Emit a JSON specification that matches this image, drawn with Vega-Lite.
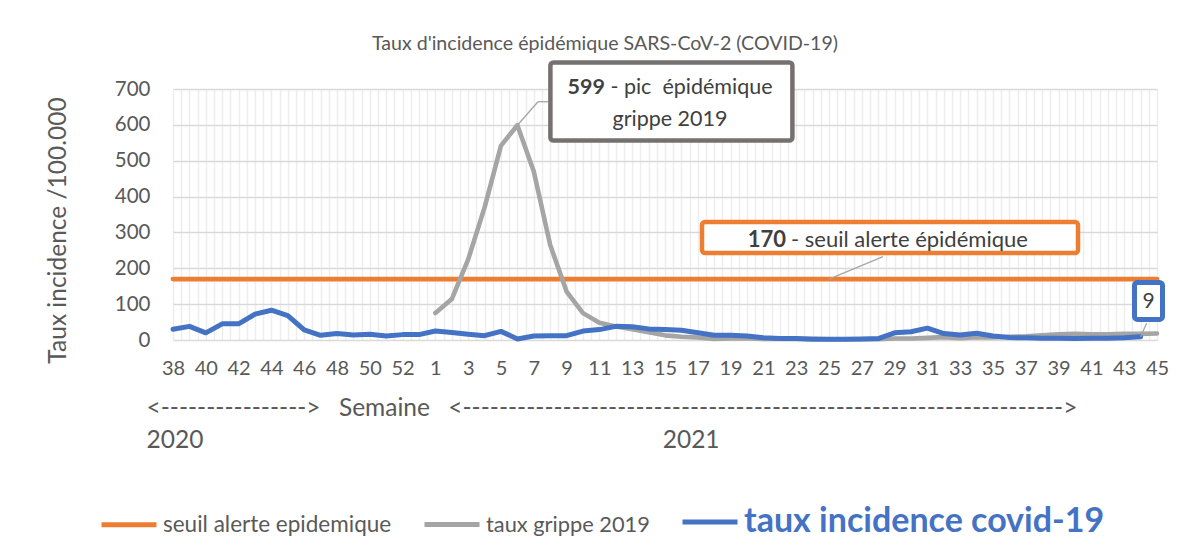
{
  "$schema": "https://vega.github.io/schema/vega-lite/v6.json",
  "autosize": {"type": "none"},
  "width": 984,
  "height": 251,
  "padding": {"left": 173, "top": 89, "right": 31, "bottom": 220},
  "background": "white",
  "config": {"font": "Lato", "view": {"stroke": null}},
  "title": {
    "text": "Taux d'incidence épidémique SARS-CoV-2 (COVID-19)",
    "font": "Lato",
    "fontSize": 19.6,
    "fontWeight": "normal",
    "color": "#595959",
    "anchor": "middle",
    "dx": -60,
    "offset": 6
  },
  "resolve": {"axis": {"x": "independent", "y": "independent"}},
  "datasets": {
    "seuil": [
      {"i":0,"semaine":38,"valeur":170},{"i":1,"semaine":39,"valeur":170},{"i":2,"semaine":40,"valeur":170},{"i":3,"semaine":41,"valeur":170},{"i":4,"semaine":42,"valeur":170},{"i":5,"semaine":43,"valeur":170},{"i":6,"semaine":44,"valeur":170},{"i":7,"semaine":45,"valeur":170},{"i":8,"semaine":46,"valeur":170},{"i":9,"semaine":47,"valeur":170},{"i":10,"semaine":48,"valeur":170},{"i":11,"semaine":49,"valeur":170},{"i":12,"semaine":50,"valeur":170},{"i":13,"semaine":51,"valeur":170},{"i":14,"semaine":52,"valeur":170},{"i":15,"semaine":53,"valeur":170},
      {"i":16,"semaine":1,"valeur":170},{"i":17,"semaine":2,"valeur":170},{"i":18,"semaine":3,"valeur":170},{"i":19,"semaine":4,"valeur":170},{"i":20,"semaine":5,"valeur":170},{"i":21,"semaine":6,"valeur":170},{"i":22,"semaine":7,"valeur":170},{"i":23,"semaine":8,"valeur":170},{"i":24,"semaine":9,"valeur":170},{"i":25,"semaine":10,"valeur":170},{"i":26,"semaine":11,"valeur":170},{"i":27,"semaine":12,"valeur":170},{"i":28,"semaine":13,"valeur":170},{"i":29,"semaine":14,"valeur":170},{"i":30,"semaine":15,"valeur":170},{"i":31,"semaine":16,"valeur":170},{"i":32,"semaine":17,"valeur":170},{"i":33,"semaine":18,"valeur":170},{"i":34,"semaine":19,"valeur":170},{"i":35,"semaine":20,"valeur":170},{"i":36,"semaine":21,"valeur":170},{"i":37,"semaine":22,"valeur":170},{"i":38,"semaine":23,"valeur":170},{"i":39,"semaine":24,"valeur":170},{"i":40,"semaine":25,"valeur":170},{"i":41,"semaine":26,"valeur":170},{"i":42,"semaine":27,"valeur":170},{"i":43,"semaine":28,"valeur":170},{"i":44,"semaine":29,"valeur":170},{"i":45,"semaine":30,"valeur":170},{"i":46,"semaine":31,"valeur":170},{"i":47,"semaine":32,"valeur":170},{"i":48,"semaine":33,"valeur":170},{"i":49,"semaine":34,"valeur":170},{"i":50,"semaine":35,"valeur":170},{"i":51,"semaine":36,"valeur":170},{"i":52,"semaine":37,"valeur":170},{"i":53,"semaine":38,"valeur":170},{"i":54,"semaine":39,"valeur":170},{"i":55,"semaine":40,"valeur":170},{"i":56,"semaine":41,"valeur":170},{"i":57,"semaine":42,"valeur":170},{"i":58,"semaine":43,"valeur":170},{"i":59,"semaine":44,"valeur":170},{"i":60,"semaine":45,"valeur":170}
    ],
    "grippe": [
      {"i":16,"semaine":1,"valeur":75},{"i":17,"semaine":2,"valeur":114},{"i":18,"semaine":3,"valeur":225},{"i":19,"semaine":4,"valeur":370},{"i":20,"semaine":5,"valeur":542},{"i":21,"semaine":6,"valeur":599},{"i":22,"semaine":7,"valeur":470},{"i":23,"semaine":8,"valeur":265},{"i":24,"semaine":9,"valeur":135},{"i":25,"semaine":10,"valeur":75},{"i":26,"semaine":11,"valeur":48},{"i":27,"semaine":12,"valeur":38},{"i":28,"semaine":13,"valeur":30},{"i":29,"semaine":14,"valeur":22},{"i":30,"semaine":15,"valeur":13},{"i":31,"semaine":16,"valeur":9},{"i":32,"semaine":17,"valeur":7},{"i":33,"semaine":18,"valeur":3},{"i":34,"semaine":19,"valeur":4},{"i":35,"semaine":20,"valeur":5},{"i":36,"semaine":21,"valeur":3},{"i":37,"semaine":22,"valeur":3},{"i":38,"semaine":23,"valeur":3},{"i":39,"semaine":24,"valeur":3},{"i":40,"semaine":25,"valeur":2},{"i":41,"semaine":26,"valeur":2},{"i":42,"semaine":27,"valeur":2},{"i":43,"semaine":28,"valeur":2},{"i":44,"semaine":29,"valeur":4},{"i":45,"semaine":30,"valeur":4},{"i":46,"semaine":31,"valeur":6},{"i":47,"semaine":32,"valeur":8},{"i":48,"semaine":33,"valeur":5},{"i":49,"semaine":34,"valeur":8},{"i":50,"semaine":35,"valeur":7},{"i":51,"semaine":36,"valeur":9},{"i":52,"semaine":37,"valeur":10},{"i":53,"semaine":38,"valeur":13},{"i":54,"semaine":39,"valeur":16},{"i":55,"semaine":40,"valeur":17},{"i":56,"semaine":41,"valeur":16},{"i":57,"semaine":42,"valeur":16},{"i":58,"semaine":43,"valeur":17},{"i":59,"semaine":44,"valeur":17},{"i":60,"semaine":45,"valeur":18}
    ],
    "covid": [
      {"i":0,"semaine":38,"valeur":30},{"i":1,"semaine":39,"valeur":38},{"i":2,"semaine":40,"valeur":20},{"i":3,"semaine":41,"valeur":45},{"i":4,"semaine":42,"valeur":45},{"i":5,"semaine":43,"valeur":72},{"i":6,"semaine":44,"valeur":83},{"i":7,"semaine":45,"valeur":68},{"i":8,"semaine":46,"valeur":28},{"i":9,"semaine":47,"valeur":13},{"i":10,"semaine":48,"valeur":18},{"i":11,"semaine":49,"valeur":14},{"i":12,"semaine":50,"valeur":16},{"i":13,"semaine":51,"valeur":11},{"i":14,"semaine":52,"valeur":15},{"i":15,"semaine":53,"valeur":15},
      {"i":16,"semaine":1,"valeur":25},{"i":17,"semaine":2,"valeur":21},{"i":18,"semaine":3,"valeur":16},{"i":19,"semaine":4,"valeur":12},{"i":20,"semaine":5,"valeur":24},{"i":21,"semaine":6,"valeur":3},{"i":22,"semaine":7,"valeur":11},{"i":23,"semaine":8,"valeur":12},{"i":24,"semaine":9,"valeur":12},{"i":25,"semaine":10,"valeur":25},{"i":26,"semaine":11,"valeur":29},{"i":27,"semaine":12,"valeur":38},{"i":28,"semaine":13,"valeur":37},{"i":29,"semaine":14,"valeur":31},{"i":30,"semaine":15,"valeur":29},{"i":31,"semaine":16,"valeur":27},{"i":32,"semaine":17,"valeur":20},{"i":33,"semaine":18,"valeur":13},{"i":34,"semaine":19,"valeur":13},{"i":35,"semaine":20,"valeur":11},{"i":36,"semaine":21,"valeur":6},{"i":37,"semaine":22,"valeur":4},{"i":38,"semaine":23,"valeur":4},{"i":39,"semaine":24,"valeur":2},{"i":40,"semaine":25,"valeur":2},{"i":41,"semaine":26,"valeur":2},{"i":42,"semaine":27,"valeur":3},{"i":43,"semaine":28,"valeur":4},{"i":44,"semaine":29,"valeur":20},{"i":45,"semaine":30,"valeur":23},{"i":46,"semaine":31,"valeur":33},{"i":47,"semaine":32,"valeur":18},{"i":48,"semaine":33,"valeur":14},{"i":49,"semaine":34,"valeur":19},{"i":50,"semaine":35,"valeur":11},{"i":51,"semaine":36,"valeur":7},{"i":52,"semaine":37,"valeur":6},{"i":53,"semaine":38,"valeur":5},{"i":54,"semaine":39,"valeur":5},{"i":55,"semaine":40,"valeur":4},{"i":56,"semaine":41,"valeur":5},{"i":57,"semaine":42,"valeur":5},{"i":58,"semaine":43,"valeur":6},{"i":59,"semaine":44,"valeur":9}
    ],
    "annotations": [
      {"id":"pic","i":21,"valeur":599,"gras":"599","texte":"- pic\u00a0 épidémique","texte2":"grippe 2019"},
      {"id":"seuil","i":40,"valeur":170,"gras":"170","texte":"- seuil alerte épidémique"},
      {"id":"dernier","i":59,"valeur":9,"gras":"9"}
    ]
  },
  "layer": [
    {
      "data": {"name": "seuil"},
      "mark": {"type": "line", "strokeWidth": 4.8, "strokeCap": "round", "strokeJoin": "round"},
      "encoding": {
        "x": {
          "field": "i", "type": "quantitative",
          "scale": {"domain": [0, 60], "nice": false, "zero": false},
          "axis": {
            "values": [0,0.5,1,1.5,2,2.5,3,3.5,4,4.5,5,5.5,6,6.5,7,7.5,8,8.5,9,9.5,10,10.5,11,11.5,12,12.5,13,13.5,14,14.5,15,15.5,16,16.5,17,17.5,18,18.5,19,19.5,20,20.5,21,21.5,22,22.5,23,23.5,24,24.5,25,25.5,26,26.5,27,27.5,28,28.5,29,29.5,30,30.5,31,31.5,32,32.5,33,33.5,34,34.5,35,35.5,36,36.5,37,37.5,38,38.5,39,39.5,40,40.5,41,41.5,42,42.5,43,43.5,44,44.5,45,45.5,46,46.5,47,47.5,48,48.5,49,49.5,50,50.5,51,51.5,52,52.5,53,53.5,54,54.5,55,55.5,56,56.5,57,57.5,58,58.5,59,59.5,60],
            "labelExpr": "datum.value % 2 === 0 ? (datum.value < 16 ? '' + (datum.value + 38) : '' + (datum.value - 15)) : ''",
            "grid": true, "gridColor": "#EDEDED", "gridWidth": 1.5,
            "domain": false, "ticks": false,
            "labelFont": "Lato", "labelFontSize": 20, "labelColor": "#595959",
            "labelPadding": 18, "labelFlush": false, "labelOverlap": false, "labelBound": false,
            "title": ["<---------------->\u2002\u2009\u2009Semaine\u2002\u2009\u2009<------------------------------------------------------------------>", "2020\u2003\u2003\u2003\u2003\u2003\u2003\u2003\u2003\u2003\u2003\u2003\u2003\u2003\u2003\u2003\u2003\u2003\u2003\u2003\u2003\u2003\u2003\u2003\u2003\u20032021"],
            "titleFont": "Lato", "titleFontSize": 24.5, "titleFontWeight": "normal", "titleColor": "#595959",
            "titleX": -27, "titleY": 56.5, "titleAlign": "left", "titleBaseline": "top", "titleLineHeight": 32, "titleAnchor": "start"
          }
        },
        "y": {
          "field": "valeur", "type": "quantitative",
          "scale": {"domain": [0, 700], "nice": false},
          "axis": {
            "values": [0,100,200,300,400,500,600,700],
            "grid": true, "gridColor": "#D9D9D9", "gridWidth": 1.5,
            "domain": false, "ticks": false,
            "labelFont": "Lato", "labelFontSize": 20.5, "labelColor": "#595959", "labelPadding": 23,
            "title": "Taux incidence /100.000",
            "titleFont": "Lato", "titleFontSize": 24.5, "titleFontWeight": "normal", "titleColor": "#595959",
            "titleX": -115, "titleY": 141, "titleAngle": 270, "titleBaseline": "middle", "titleAlign": "center"
          }
        },
        "color": {
          "datum": "seuil alerte epidemique",
          "type": "nominal",
          "scale": {
            "domain": ["seuil alerte epidemique", "taux grippe 2019", "taux incidence covid-19"],
            "range": ["#ED7D31", "#A5A5A5", "#4472C4"]
          },
          "legend": {
            "title": null,
            "orient": "none",
            "legendX": -74,
            "legendY": 403,
            "direction": "horizontal",
            "symbolType": "stroke",
            "symbolSize": 3025,
            "symbolStrokeWidth": 5,
            "labelFont": "Lato",
            "labelFontSize": {"expr": "datum.label === 'taux incidence covid-19' ? 34 : datum.label === 'taux grippe 2019' ? 21.8 : 22.5"},
            "labelFontWeight": {"expr": "datum.label === 'taux incidence covid-19' ? 'bold' : 'normal'"},
            "labelColor": {"expr": "datum.label === 'taux incidence covid-19' ? '#4472C4' : '#595959'"},
            "labelOffset": 4,
            "labelLimit": 600,
            "columnPadding": 22
          }
        }
      }
    },
    {
      "data": {"name": "grippe"},
      "mark": {"type": "line", "strokeWidth": 4.6, "strokeCap": "round", "strokeJoin": "round"},
      "encoding": {
        "x": {"field": "i", "type": "quantitative", "axis": null},
        "y": {"field": "valeur", "type": "quantitative", "axis": null},
        "color": {"datum": "taux grippe 2019", "type": "nominal"}
      }
    },
    {
      "data": {"name": "covid"},
      "mark": {"type": "line", "strokeWidth": 5, "strokeCap": "round", "strokeJoin": "round"},
      "encoding": {
        "x": {"field": "i", "type": "quantitative", "axis": null},
        "y": {"field": "valeur", "type": "quantitative", "axis": null},
        "color": {"datum": "taux incidence covid-19", "type": "nominal"}
      }
    },
    {
      "data": {"name": "annotations"},
      "transform": [{"filter": "datum.id === 'pic'"}],
      "encoding": {
        "x": {"field": "i", "type": "quantitative", "axis": null},
        "y": {"field": "valeur", "type": "quantitative", "axis": null}
      },
      "layer": [
        {"mark": {"type": "rule", "color": "#A6A6A6", "strokeWidth": 1.3, "x2Offset": 20.6, "y2Offset": -23.5},
         "encoding": {"x2": {"field": "i"}, "y2": {"field": "valeur"}}},
        {"mark": {"type": "rule", "color": "#A6A6A6", "strokeWidth": 1.3, "xOffset": 20.6, "yOffset": -23.5, "x2Offset": 31, "y2Offset": -23.5},
         "encoding": {"x2": {"field": "i"}, "y2": {"field": "valeur"}}},
        {"mark": {"type": "rect", "width": 242, "height": 78, "xOffset": 154, "yOffset": -23.7, "fill": "white", "stroke": "#767171", "strokeWidth": 4.5, "cornerRadius": 3}},
        {"mark": {"type": "text", "font": "Lato", "fontSize": 21.5, "fontWeight": "bold", "color": "#404040", "align": "right", "baseline": "middle", "dx": 87.6, "dy": -37},
         "encoding": {"text": {"field": "gras"}}},
        {"mark": {"type": "text", "font": "Lato", "fontSize": 21.5, "fontWeight": "normal", "color": "#404040", "align": "left", "baseline": "middle", "dx": 93, "dy": -37},
         "encoding": {"text": {"field": "texte"}}},
        {"mark": {"type": "text", "font": "Lato", "fontSize": 21.5, "fontWeight": "normal", "color": "#404040", "align": "center", "baseline": "middle", "dx": 152.6, "dy": -5},
         "encoding": {"text": {"field": "texte2"}}}
      ]
    },
    {
      "data": {"name": "annotations"},
      "transform": [{"filter": "datum.id === 'seuil'"}],
      "encoding": {
        "x": {"field": "i", "type": "quantitative", "axis": null},
        "y": {"field": "valeur", "type": "quantitative", "axis": null}
      },
      "layer": [
        {"mark": {"type": "rule", "color": "#A6A6A6", "strokeWidth": 1.3, "x2Offset": 54, "y2Offset": -22.5},
         "encoding": {"x2": {"field": "i"}, "y2": {"field": "valeur"}}},
        {"mark": {"type": "rect", "width": 376, "height": 31, "xOffset": 61, "yOffset": -41.5, "fill": "white", "stroke": "#ED7D31", "strokeWidth": 4.5, "cornerRadius": 3}},
        {"mark": {"type": "text", "font": "Lato", "fontSize": 22, "fontWeight": "bold", "color": "#404040", "align": "right", "baseline": "middle", "dx": -43, "dy": -39},
         "encoding": {"text": {"field": "gras"}}},
        {"mark": {"type": "text", "font": "Lato", "fontSize": 22, "fontWeight": "normal", "color": "#404040", "align": "left", "baseline": "middle", "dx": -38, "dy": -39},
         "encoding": {"text": {"field": "texte"}}}
      ]
    },
    {
      "data": {"name": "annotations"},
      "transform": [{"filter": "datum.id === 'dernier'"}],
      "encoding": {
        "x": {"field": "i", "type": "quantitative", "axis": null},
        "y": {"field": "valeur", "type": "quantitative", "axis": null}
      },
      "layer": [
        {"mark": {"type": "rule", "color": "#A6A6A6", "strokeWidth": 1.3, "x2Offset": 6, "y2Offset": -13.5},
         "encoding": {"x2": {"field": "i"}, "y2": {"field": "valeur"}}},
        {"mark": {"type": "rect", "width": 28, "height": 37, "xOffset": 7.9, "yOffset": -35.8, "fill": "white", "stroke": "#4472C4", "strokeWidth": 5, "cornerRadius": 3}},
        {"mark": {"type": "text", "font": "Lato", "fontSize": 21, "fontWeight": "normal", "color": "#404040", "align": "center", "baseline": "middle", "dx": 8, "dy": -34.3},
         "encoding": {"text": {"field": "gras"}}}
      ]
    }
  ]
}
